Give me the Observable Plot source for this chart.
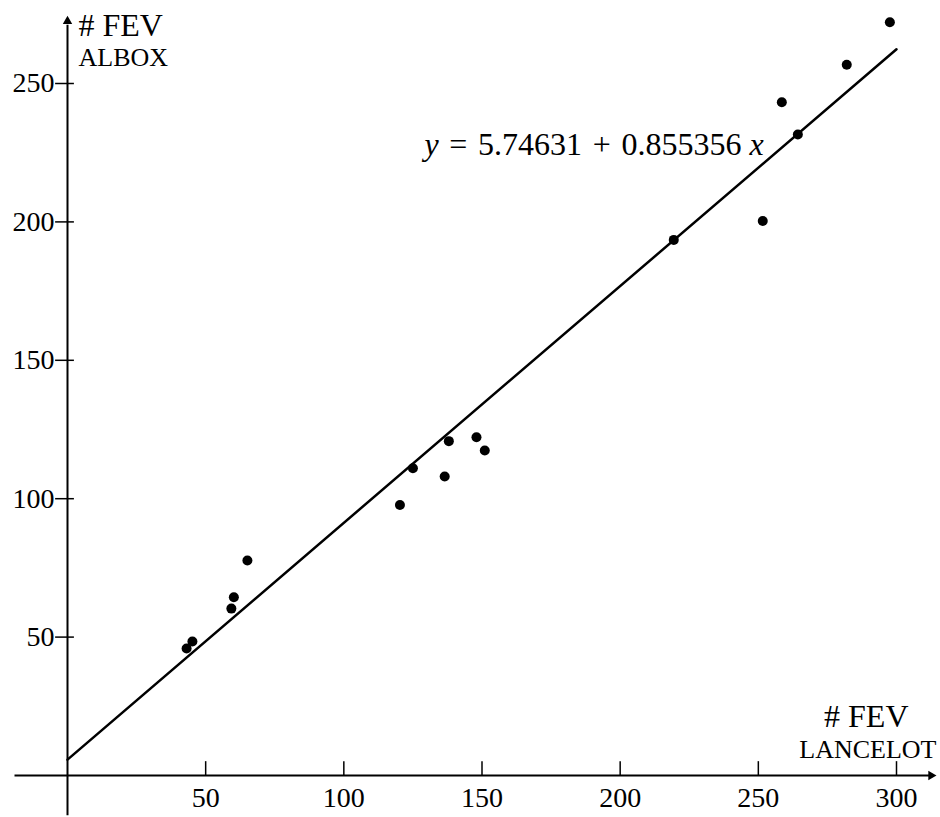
<!DOCTYPE html>
<html>
<head>
<meta charset="utf-8">
<script src="https://cdn.jsdelivr.net/npm/d3@7"></script>
<script src="https://cdn.jsdelivr.net/npm/@observablehq/plot@0.6"></script>
<style>
  html, body { margin: 0; padding: 0; background: #fff; }
</style>
</head>
<body>
<div id="chart"></div>
<script>
// Data
const lancelot = [43.1, 45.2, 59.3, 60.2, 65.1, 120.3, 125.0, 136.5, 138.0, 148.0, 151.0, 219.4, 251.6, 258.5, 264.3, 282.0, 297.6];
const albox    = [45.9, 48.4, 60.3, 64.4, 77.7, 97.7, 111.0, 108.0, 120.8, 122.2, 117.4, 193.5, 200.3, 243.2, 231.6, 256.8, 272.1];
const intercept = 5.74631;
const slope = 0.855356;
const xTicks = [50, 100, 150, 200, 250, 300];
const yTicks = [50, 100, 150, 200, 250];
const fitRange = [0, 300];
const yTitle = ["# FEV", "ALBOX"];
const xTitle = ["# FEV", "LANCELOT"];
const eqY = "y", eqX = "x";
const eqMiddle = " \u200A= \u200A5.74631 \u200A+ \u200A0.855356 ";
const equationLabel = eqY + eqMiddle + eqX;

const points = lancelot.map((x, i) => ({x, y: albox[i]}));
const fit = fitRange.map(x => ({x, y: intercept + slope * x}));

const font = "'Liberation Serif', 'DejaVu Serif', serif";

const chart = Plot.plot({
  width: 940,
  height: 817,
  marginLeft: 67,
  marginRight: 44,
  marginTop: 83,
  marginBottom: 42,
  x: {domain: [0, 300], axis: null},
  y: {domain: [0, 250], axis: null},
  style: {fontFamily: font, background: "white", overflow: "visible"},
  marks: [
    // axes lines
    Plot.ruleY([0], {x1: -19, x2: 312, stroke: "black", strokeWidth: 2}),
    Plot.ruleX([0], {y1: -14.5, y2: 271, stroke: "black", strokeWidth: 2}),
    Plot.dot([0], {x: 312.5, y: 0, symbol: "triangle", rotate: 90, r: 3.5, fill: "black", stroke: null}),
    Plot.dot([0], {x: 0, y: 272.5, symbol: "triangle", rotate: 0, r: 3.5, fill: "black", stroke: null}),
    // ticks
    Plot.ruleX(xTicks, {x: d => d, y1: 0, y2: 5, stroke: "black", strokeWidth: 1.5}),
    Plot.ruleY(yTicks, {y: d => d, x1: -4.3, x2: 2.5, stroke: "black", strokeWidth: 1.5}),
    // tick labels
    Plot.text(xTicks, {x: d => d, y: 0, dy: 23, text: d => String(d), fontSize: 28, fill: "black"}),
    Plot.text(yTicks, {x: 0, y: d => d, dx: -13, text: d => String(d), textAnchor: "end", fontSize: 28, fill: "black"}),
    // axis titles
    Plot.text([yTitle[0]], {frameAnchor: "top-left", lineAnchor: "middle", dx: 11, dy: -58, text: d => d, textAnchor: "start", fontSize: 32, fill: "black"}),
    Plot.text([yTitle[1]], {frameAnchor: "top-left", lineAnchor: "middle", dx: 11, dy: -26, text: d => d, textAnchor: "start", fontSize: 26, fill: "black"}),
    Plot.text([xTitle[0]], {frameAnchor: "bottom-right", lineAnchor: "middle", dx: 12, dy: -59, text: d => d, textAnchor: "end", fontSize: 32, fill: "black"}),
    Plot.text([xTitle[1]], {frameAnchor: "bottom-right", lineAnchor: "middle", dx: 40, dy: -26, text: d => d, textAnchor: "end", fontSize: 26, fill: "black"}),
    // fit line
    Plot.line(fit, {x: "x", y: "y", stroke: "black", strokeWidth: 2.5}),
    // points
    Plot.dot(points, {x: "x", y: "y", r: 5, fill: "black", stroke: null}),
    // equation
    Plot.text([equationLabel], {x: 251.9, y: 228.0, text: d => d, textAnchor: "end", fontSize: 32, fill: "black"})
  ]
});

// Italicise the variables in the equation label
d3.select(chart).selectAll("text").each(function() {
  const el = d3.select(this);
  if (el.text() === equationLabel) {
    const t = el.select("tspan").empty() ? el : el.select("tspan");
    t.text(null);
    t.append("tspan").attr("font-style", "italic").text(eqY);
    t.append("tspan").text(eqMiddle);
    t.append("tspan").attr("font-style", "italic").text(eqX);
  }
});

document.getElementById("chart").appendChild(chart);
</script>
</body>
</html>
